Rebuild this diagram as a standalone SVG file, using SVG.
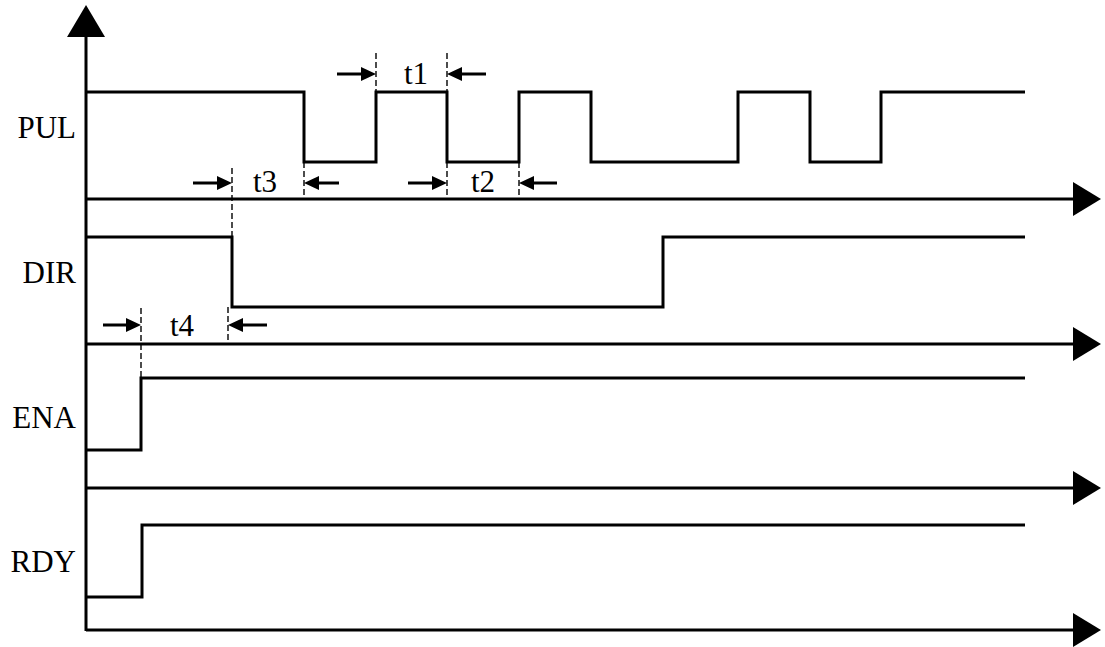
<svg xmlns="http://www.w3.org/2000/svg" width="1105" height="647" viewBox="0 0 1105 647">
<style>
.sig{fill:none;stroke:#000;stroke-width:3;stroke-linejoin:miter}
.ax{fill:none;stroke:#000;stroke-width:3}
.dash{fill:none;stroke:#000;stroke-width:1.4;stroke-dasharray:6,3}
.lbl{font-family:"Liberation Serif","Times New Roman",serif;font-size:31px;fill:#000;text-anchor:end}
.tl{font-family:"Liberation Serif","Times New Roman",serif;font-size:31px;fill:#000;text-anchor:middle}
.ar{fill:none;stroke:#000;stroke-width:3}
.hd{fill:#000}
</style>
<rect width="1105" height="647" fill="#fff"/>
<g id="axes">
<line class="ax" x1="86" y1="30" x2="86" y2="631"/>
<polygon class="hd" points="86,5 67,37 105,37"/>
<line class="ax" x1="86" y1="199" x2="1078" y2="199"/>
<polygon class="hd" points="1101,199 1073,182 1073,216"/>
<line class="ax" x1="86" y1="344" x2="1078" y2="344"/>
<polygon class="hd" points="1101,344 1073,327 1073,361"/>
<line class="ax" x1="86" y1="488" x2="1078" y2="488"/>
<polygon class="hd" points="1101,488 1073,471 1073,505"/>
<line class="ax" x1="86" y1="630" x2="1078" y2="630"/>
<polygon class="hd" points="1101,630 1073,613 1073,647"/>
</g>
<g id="labels">
<text class="lbl" x="76" y="138">PUL</text>
<text class="lbl" x="76" y="283">DIR</text>
<text class="lbl" x="76" y="428">ENA</text>
<text class="lbl" x="76" y="572">RDY</text>
</g>
<g id="PUL">
<polyline class="sig" points="86,92 304,92 304,162 376,162 376,92 447,92 447,162 519,162 519,92 591,92 591,162 738,162 738,92 810,92 810,162 881,162 881,92 1025,92"/>
</g>
<g id="DIR">
<polyline class="sig" points="86,237 232,237 232,307 663,307 663,237 1025,237"/>
</g>
<g id="ENA">
<polyline class="sig" points="86,450 141,450 141,378 1025,378"/>
</g>
<g id="RDY">
<polyline class="sig" points="86,597 142,597 142,525 1025,525"/>
</g>
<g id="timing">
<line class="dash" x1="376" y1="53" x2="376" y2="92"/>
<line class="dash" x1="447" y1="53" x2="447" y2="92"/>
<line class="dash" x1="447" y1="162" x2="447" y2="199"/>
<line class="dash" x1="519" y1="162" x2="519" y2="199"/>
<line class="dash" x1="304" y1="162" x2="304" y2="199"/>
<line class="dash" x1="232" y1="168" x2="232" y2="237"/>
<line class="dash" x1="141" y1="308" x2="141" y2="378"/>
<line class="dash" x1="228" y1="307" x2="228" y2="344"/>
<line class="ar" x1="337" y1="74" x2="362" y2="74"/>
<polygon class="hd" points="376,74 361,67 361,81"/>
<line class="ar" x1="461" y1="74" x2="486" y2="74"/>
<polygon class="hd" points="447,74 462,67 462,81"/>
<text class="tl" x="416" y="84">t1</text>
<line class="ar" x1="193" y1="183" x2="218" y2="183"/>
<polygon class="hd" points="232,183 217,176 217,190"/>
<line class="ar" x1="318" y1="183" x2="339" y2="183"/>
<polygon class="hd" points="304,183 319,176 319,190"/>
<text class="tl" x="265" y="192">t3</text>
<line class="ar" x1="408" y1="183" x2="433" y2="183"/>
<polygon class="hd" points="447,183 432,176 432,190"/>
<line class="ar" x1="533" y1="183" x2="557" y2="183"/>
<polygon class="hd" points="519,183 534,176 534,190"/>
<text class="tl" x="483" y="192">t2</text>
<line class="ar" x1="103" y1="325" x2="127" y2="325"/>
<polygon class="hd" points="141,325 126,318 126,332"/>
<line class="ar" x1="242" y1="325" x2="267" y2="325"/>
<polygon class="hd" points="228,325 243,318 243,332"/>
<text class="tl" x="182" y="336">t4</text>
</g>
</svg>
